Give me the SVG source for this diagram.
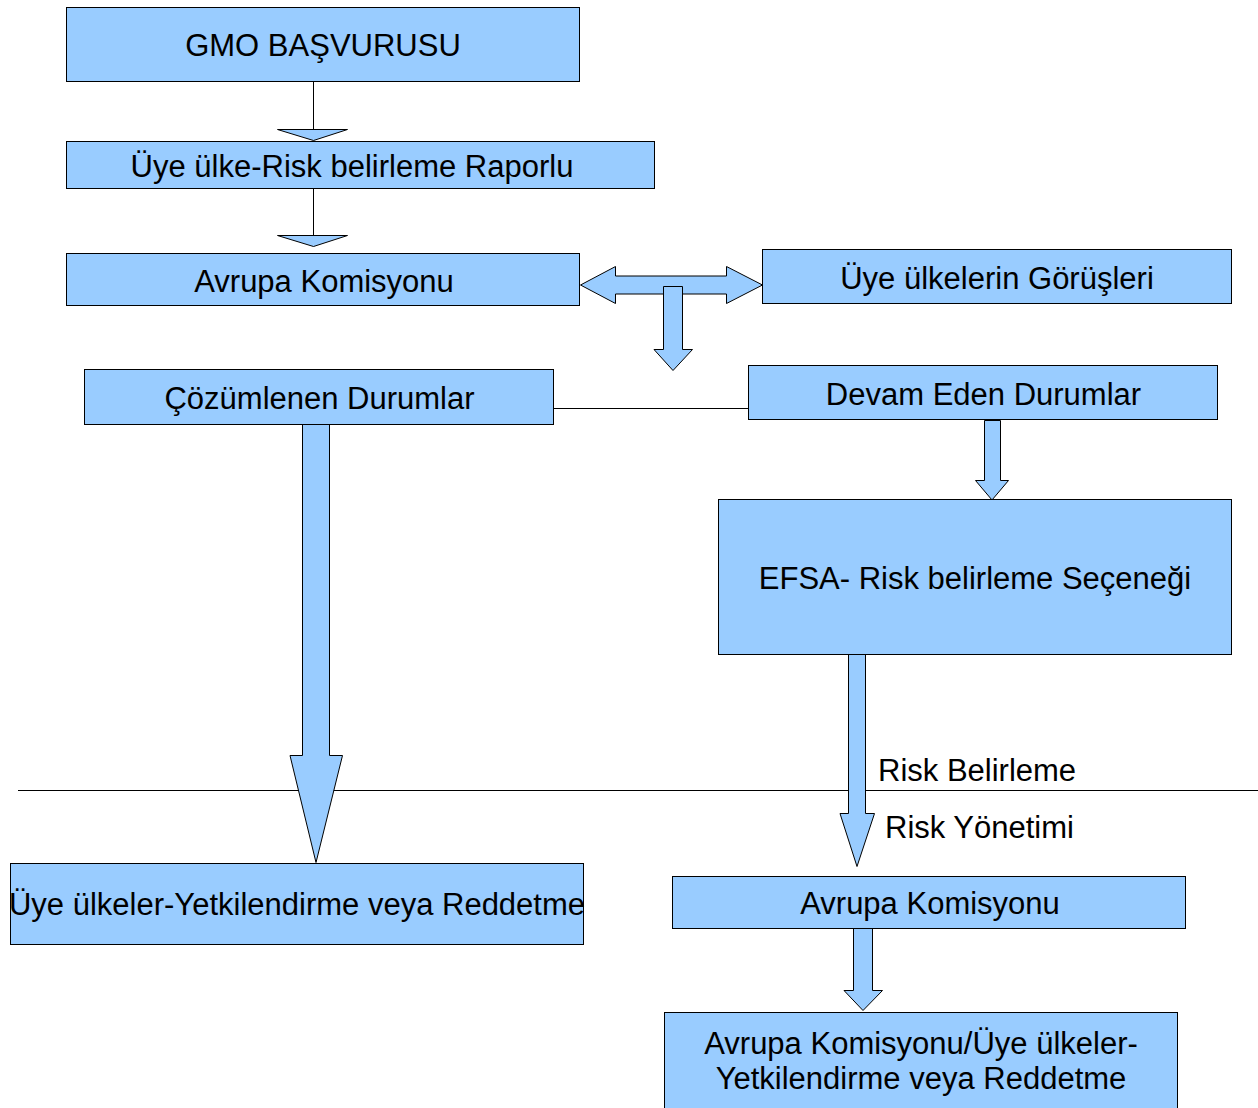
<svg xmlns="http://www.w3.org/2000/svg" width="1258" height="1108" viewBox="0 0 1258 1108">
<style>
.box{fill:#99ccff;stroke:#000;stroke-width:1}
.arr{fill:#99ccff;stroke:#000;stroke-width:1;stroke-linejoin:miter}
.ln{fill:none;stroke:#000;stroke-width:1}
text{font-family:"Liberation Sans",Arial,sans-serif;font-size:31px;fill:#000}
.c{text-anchor:middle}
</style>
<rect width="1258" height="1108" fill="#fff"/>
<g id="connectors">
<line class="ln" x1="313.5" y1="82" x2="313.5" y2="129"/>
<path class="arr" d="M277.5,129.5 L347.5,129.5 L313.5,140.5 Z"/>
<line class="ln" x1="313.5" y1="188" x2="313.5" y2="235"/>
<path class="arr" d="M277.5,235.5 L347.5,235.5 L313.5,246.5 Z"/>
<path class="arr" d="M580.5,285 L615.5,266.5 L615.5,276 L726.5,276 L726.5,266.5 L762.5,285 L726.5,303.5 L726.5,294 L615.5,294 L615.5,303.5 Z"/>
<path class="arr" d="M663.5,286.5 L682.5,286.5 L682.5,349.5 L692.5,349.5 L673,370.5 L654,349.5 L663.5,349.5 Z"/>
<line class="ln" x1="554" y1="408.5" x2="748" y2="408.5"/>
<line class="ln" x1="18" y1="790.5" x2="1258" y2="790.5"/>
<path class="arr" d="M302.5,424.5 L329.5,424.5 L329.5,755.5 L342.5,755.5 L316,862.5 L290,755.5 L302.5,755.5 Z"/>
<path class="arr" d="M984.5,420.5 L1000.5,420.5 L1000.5,480.5 L1008.5,480.5 L992,500 L975.5,480.5 L984.5,480.5 Z"/>
<path class="arr" d="M848.5,654.5 L865.5,654.5 L865.5,813.5 L874.5,813.5 L857,866.5 L840,813.5 L848.5,813.5 Z"/>
<path class="arr" d="M853.5,928.5 L872.5,928.5 L872.5,990.5 L882.5,990.5 L863,1010.5 L844,990.5 L853.5,990.5 Z"/>
</g>
<g id="n1"><rect class="box" x="66.5" y="7.5" width="513" height="74"/><text class="c" x="323" y="56">GMO BAŞVURUSU</text></g>
<g id="n2"><rect class="box" x="66.5" y="141.5" width="588" height="47"/><text class="c" x="352" y="177">Üye ülke-Risk belirleme Raporlu</text></g>
<g id="n3"><rect class="box" x="66.5" y="253.5" width="513" height="52"/><text class="c" x="324" y="292">Avrupa Komisyonu</text></g>
<g id="n4"><rect class="box" x="762.5" y="249.5" width="469" height="54"/><text class="c" x="997" y="289">Üye ülkelerin Görüşleri</text></g>
<g id="n5"><rect class="box" x="84.5" y="369.5" width="469" height="55"/><text class="c" x="319.5" y="409">Çözümlenen Durumlar</text></g>
<g id="n6"><rect class="box" x="748.5" y="365.5" width="469" height="54"/><text class="c" x="983.5" y="405">Devam Eden Durumlar</text></g>
<g id="n7"><rect class="box" x="718.5" y="499.5" width="513" height="155"/><text class="c" x="975" y="589">EFSA- Risk belirleme Seçeneği</text></g>
<g id="n8"><rect class="box" x="10.5" y="863.5" width="573" height="81"/><text class="c" x="297" y="915">Üye ülkeler-Yetkilendirme veya Reddetme</text></g>
<g id="n9"><rect class="box" x="672.5" y="876.5" width="513" height="52"/><text class="c" x="930" y="914">Avrupa Komisyonu</text></g>
<g id="n10"><rect class="box" x="664.5" y="1012.5" width="513" height="100"/><text class="c" x="921" y="1054">Avrupa Komisyonu/Üye ülkeler-</text><text class="c" x="921" y="1089">Yetkilendirme veya Reddetme</text></g>
<g id="labels"><text x="878" y="781">Risk Belirleme</text><text x="885" y="838">Risk Yönetimi</text></g>
</svg>
